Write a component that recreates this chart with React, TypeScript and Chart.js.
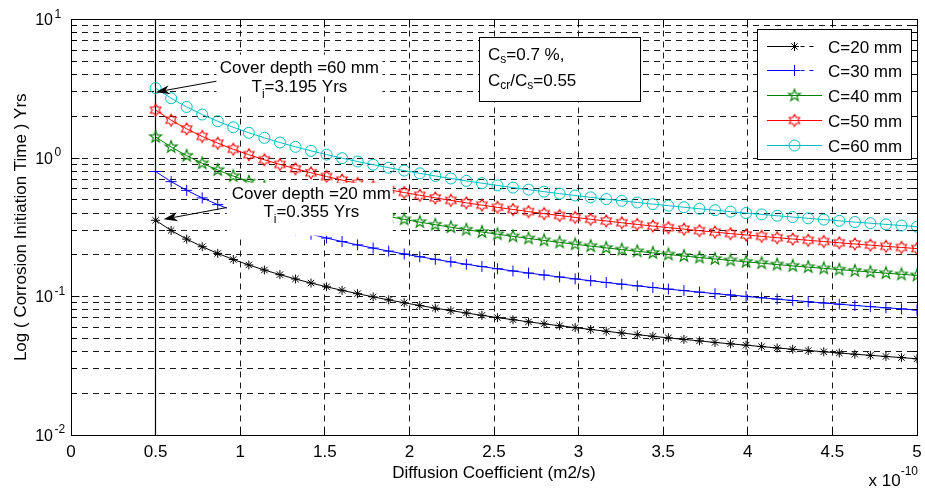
import React, { useEffect, useRef } from 'react';
import { Chart, registerables } from 'chart.js';

Chart.register(...registerables);

// Diffusion coefficient (x 1e-10 m2/s), 50 evenly spaced samples 0.5 .. 5
const diffusionCoeff = [
  0.5, 0.5918, 0.6837, 0.7755, 0.8673, 0.9592, 1.051, 1.1429, 1.2347, 1.3265,
  1.4184, 1.5102, 1.602, 1.6939, 1.7857, 1.8776, 1.9694, 2.0612, 2.1531, 2.2449,
  2.3367, 2.4286, 2.5204, 2.6122, 2.7041, 2.7959, 2.8878, 2.9796, 3.0714, 3.1633,
  3.2551, 3.3469, 3.4388, 3.5306, 3.6224, 3.7143, 3.8061, 3.898, 3.9898, 4.0816,
  4.1735, 4.2653, 4.3571, 4.449, 4.5408, 4.6327, 4.7245, 4.8163, 4.9082, 5.0,
];

// Corrosion initiation time (years)
const timeC20 = [
  0.355, 0.2999, 0.2596, 0.2289, 0.2047, 0.185, 0.1689, 0.1553, 0.1438, 0.1338,
  0.1251, 0.1175, 0.1108, 0.1048, 0.0994, 0.0945, 0.0901, 0.0861, 0.0824, 0.0791,
  0.076, 0.0731, 0.0704, 0.068, 0.0656, 0.0635, 0.0615, 0.0596, 0.0578, 0.0561,
  0.0545, 0.053, 0.0516, 0.0503, 0.049, 0.0478, 0.0466, 0.0455, 0.0445, 0.0435,
  0.0425, 0.0416, 0.0407, 0.0399, 0.0391, 0.0383, 0.0376, 0.0369, 0.0362, 0.0355,
];
const timeC30 = [
  0.7988, 0.6748, 0.5841, 0.515, 0.4606, 0.4163, 0.38, 0.3494, 0.3235, 0.3011,
  0.2816, 0.2644, 0.2493, 0.2358, 0.2237, 0.2127, 0.2028, 0.1937, 0.1855, 0.1779,
  0.1709, 0.1645, 0.1585, 0.1529, 0.1477, 0.1429, 0.1383, 0.134, 0.13, 0.1262,
  0.1227, 0.1193, 0.1161, 0.1131, 0.1103, 0.1075, 0.1049, 0.1025, 0.1001, 0.0979,
  0.0957, 0.0936, 0.0917, 0.0898, 0.088, 0.0862, 0.0845, 0.0829, 0.0814, 0.0799,
];
const timeC40 = [
  1.42, 1.1997, 1.0385, 0.9156, 0.8186, 0.7402, 0.6756, 0.6212, 0.575, 0.5352,
  0.5006, 0.4701, 0.4432, 0.4192, 0.3976, 0.3782, 0.3605, 0.3444, 0.3298, 0.3163,
  0.3038, 0.2924, 0.2817, 0.2718, 0.2626, 0.254, 0.2459, 0.2383, 0.2312, 0.2244,
  0.2181, 0.2121, 0.2065, 0.2011, 0.196, 0.1912, 0.1866, 0.1822, 0.178, 0.174,
  0.1701, 0.1664, 0.163, 0.1596, 0.1564, 0.1532, 0.1503, 0.1474, 0.1446, 0.142,
];
const timeC50 = [
  2.2188, 1.8746, 1.6226, 1.4306, 1.2791, 1.1566, 1.0556, 0.9707, 0.8985, 0.8363,
  0.7821, 0.7346, 0.6925, 0.6549, 0.6213, 0.5909, 0.5633, 0.5382, 0.5153, 0.4942,
  0.4748, 0.4568, 0.4402, 0.4247, 0.4103, 0.3968, 0.3842, 0.3723, 0.3612, 0.3507,
  0.3408, 0.3314, 0.3226, 0.3142, 0.3063, 0.2987, 0.2915, 0.2846, 0.2781, 0.2718,
  0.2658, 0.2601, 0.2546, 0.2494, 0.2443, 0.2394, 0.2348, 0.2303, 0.226, 0.2219,
];
const timeC60 = [
  3.195, 2.6994, 2.3366, 2.06, 1.8419, 1.6655, 1.52, 1.3978, 1.2938, 1.2043,
  1.1263, 1.0578, 0.9972, 0.9431, 0.8946, 0.8509, 0.8112, 0.775, 0.742, 0.7116,
  0.6836, 0.6578, 0.6339, 0.6116, 0.5908, 0.5714, 0.5532, 0.5361, 0.5201, 0.505,
  0.4908, 0.4773, 0.4646, 0.4524, 0.441, 0.4301, 0.4198, 0.4099, 0.4004, 0.3914,
  0.3828, 0.3745, 0.3667, 0.3591, 0.3518, 0.3448, 0.3381, 0.3317, 0.3254, 0.3195,
];

const seriesNames = ['C=20 mm', 'C=30 mm', 'C=40 mm', 'C=50 mm', 'C=60 mm'];
const seriesColors = ['#000000', '#0000ff', '#008000', '#ff0000', '#00bfbf'];

const xTickValues = [0, 0.5, 1, 1.5, 2, 2.5, 3, 3.5, 4, 4.5, 5];
const xTickLabels = ['0', '0.5', '1', '1.5', '2', '2.5', '3', '3.5', '4', '4.5', '5'];
const yDecadeValues = [0.01, 0.1, 1, 10];
const yDecadeExponents = ['-2', '-1', '0', '1'];
const yGridValues = [
  0.01, 0.02, 0.03, 0.04, 0.05, 0.06, 0.07, 0.08, 0.09,
  0.1, 0.2, 0.3, 0.4, 0.5, 0.6, 0.7, 0.8, 0.9,
  1, 2, 3, 4, 5, 6, 7, 8, 9, 10,
];

const FONT = '"Liberation Sans", Arial, Helvetica, sans-serif';

type Run = { t: string; size: number; dy: number };

function drawRuns(ctx: CanvasRenderingContext2D, runs: Run[], x: number, y: number, align: 'left' | 'center' | 'right') {
  ctx.textAlign = 'left';
  ctx.textBaseline = 'alphabetic';
  let total = 0;
  const widths = runs.map((r) => {
    ctx.font = `${r.size}px ${FONT}`;
    const w = ctx.measureText(r.t).width;
    total += w;
    return w;
  });
  let cx = align === 'left' ? x : align === 'center' ? x - total / 2 : x - total;
  runs.forEach((r, i) => {
    ctx.font = `${r.size}px ${FONT}`;
    ctx.fillText(r.t, cx, y + r.dy);
    cx += widths[i];
  });
}

function makeStarMarker(n: number, outer: number, inner: number, color: string) {
  const c = document.createElement('canvas');
  c.width = 16;
  c.height = 16;
  const g = c.getContext('2d')!;
  g.strokeStyle = color;
  g.lineWidth = 1.1;
  g.beginPath();
  for (let k = 0; k < 2 * n; k++) {
    const r = k % 2 === 0 ? outer : inner;
    const ang = -Math.PI / 2 + (k * Math.PI) / n;
    const px = 8 + r * Math.cos(ang);
    const py = 8 + r * Math.sin(ang);
    if (k === 0) g.moveTo(px, py);
    else g.lineTo(px, py);
  }
  g.closePath();
  g.stroke();
  return c;
}

function drawArrow(ctx: CanvasRenderingContext2D, x0: number, y0: number, x1: number, y1: number) {
  const ang = Math.atan2(y1 - y0, x1 - x0);
  const len = 14;
  const hw = 4.5;
  const notch = 10;
  ctx.strokeStyle = '#000';
  ctx.fillStyle = '#000';
  ctx.lineWidth = 1;
  ctx.beginPath();
  ctx.moveTo(x0, y0);
  ctx.lineTo(x1 - Math.cos(ang) * notch, y1 - Math.sin(ang) * notch);
  ctx.stroke();
  const bx = x1 - Math.cos(ang) * len;
  const by = y1 - Math.sin(ang) * len;
  const nx = -Math.sin(ang);
  const ny = Math.cos(ang);
  ctx.beginPath();
  ctx.moveTo(x1, y1);
  ctx.lineTo(bx + nx * hw, by + ny * hw);
  ctx.lineTo(x1 - Math.cos(ang) * notch, y1 - Math.sin(ang) * notch);
  ctx.lineTo(bx - nx * hw, by - ny * hw);
  ctx.closePath();
  ctx.fill();
}

// annotation anchors in data coordinates
const note60 = { ax: 1.35, ay: 3.8, px: 0.5, py: 3.195, text: 'Cover depth =60 mm', ti: '=3.195 Yrs' };
const note20 = { ax: 1.42, ay: 0.48, px: 0.5, py: 0.355, text: 'Cover depth =20 mm', ti: '=0.355 Yrs' };

export default function App() {
  const ref = useRef<HTMLCanvasElement | null>(null);

  useEffect(() => {
    document.body.style.margin = '0';
    const canvas = ref.current!;
    const pent = makeStarMarker(5, 6.3, 2.5, seriesColors[2]);
    const hexa = makeStarMarker(6, 6, 3.46, seriesColors[3]);
    const styles: any[] = ['star', 'cross', pent, hexa, 'circle'];
    const radii = [4.5, 5.5, 7, 7, 5.5];
    const seriesData = [timeC20, timeC30, timeC40, timeC50, timeC60];

    const drawMarker = (ctx: CanvasRenderingContext2D, i: number, x: number, y: number) => {
      const col = seriesColors[i];
      ctx.strokeStyle = col;
      ctx.lineWidth = 1;
      ctx.setLineDash([]);
      if (i === 0) {
        const r = 4.5;
        ctx.beginPath();
        ctx.moveTo(x - r, y); ctx.lineTo(x + r, y);
        ctx.moveTo(x, y - r); ctx.lineTo(x, y + r);
        const d = r * Math.SQRT1_2;
        ctx.moveTo(x - d, y - d); ctx.lineTo(x + d, y + d);
        ctx.moveTo(x - d, y + d); ctx.lineTo(x + d, y - d);
        ctx.stroke();
      } else if (i === 1) {
        const r = 5.5;
        ctx.beginPath();
        ctx.moveTo(x - r, y); ctx.lineTo(x + r, y);
        ctx.moveTo(x, y - r); ctx.lineTo(x, y + r);
        ctx.stroke();
      } else if (i === 4) {
        ctx.beginPath();
        ctx.arc(x, y, 5.5, 0, Math.PI * 2);
        ctx.stroke();
      } else {
        const img = i === 2 ? pent : hexa;
        ctx.drawImage(img, x - 8, y - 8);
      }
    };

    const decor = {
      id: 'decor',
      beforeDatasetsDraw(chart: any) {
        const { ctx, chartArea: a, scales } = chart;
        const px = Math.round(scales.x.getPixelForValue(0.5) - 0.5) + 0.5;
        ctx.save();
        ctx.strokeStyle = '#000';
        ctx.lineWidth = 1.2;
        ctx.beginPath();
        ctx.moveTo(px, a.top);
        ctx.lineTo(px, a.bottom);
        ctx.stroke();
        ctx.restore();
      },
      afterDatasetsDraw(chart: any) {
        const { ctx, scales } = chart;
        const sx = scales.x;
        const sy = scales.y;
        ctx.save();
        // note 60 mm
        {
          const cx = sx.getPixelForValue(note60.ax);
          const cy = sy.getPixelForValue(note60.ay);
          ctx.fillStyle = '#fff';
          ctx.fillRect(cx - 83, cy - 23, 166, 40);
          ctx.fillStyle = '#000';
          drawRuns(ctx, [{ t: note60.text, size: 17, dy: 0 }], cx, cy - 4.4, 'center');
          drawRuns(ctx, [
            { t: 'T', size: 17, dy: 0 },
            { t: 'i', size: 12, dy: 6 },
            { t: note60.ti, size: 17, dy: 0 },
          ], cx, cy + 14.6, 'center');
          const tx = sx.getPixelForValue(note60.px);
          const ty = sy.getPixelForValue(note60.py);
          drawArrow(ctx, cx - 83, cy + 3.5, tx, ty + 4);
        }
        // note 20 mm
        {
          const cx = sx.getPixelForValue(note20.ax);
          const cy = sy.getPixelForValue(note20.ay);
          ctx.fillStyle = '#fff';
          ctx.fillRect(cx - 84.5, cy - 19.5, 166, 53);
          ctx.fillStyle = '#000';
          drawRuns(ctx, [{ t: note20.text, size: 17, dy: 0 }], cx, cy - 3.6, 'center');
          drawRuns(ctx, [
            { t: 'T', size: 17, dy: 0 },
            { t: 'i', size: 12, dy: 6 },
            { t: note20.ti, size: 17, dy: 0 },
          ], cx, cy + 14.7, 'center');
          const tx = sx.getPixelForValue(note20.px);
          const ty = sy.getPixelForValue(note20.py);
          drawArrow(ctx, cx - 84.5, cy + 5.4, tx + 8, ty - 1);
        }
        ctx.restore();
      },
      afterDraw(chart: any) {
        const { ctx, chartArea: a, scales } = chart;
        const sx = scales.x;
        const sy = scales.y;
        ctx.save();
        ctx.setLineDash([]);
        ctx.strokeStyle = '#000';
        ctx.lineWidth = 1;
        const L = Math.round(a.left - 0.5) + 0.5;
        const R = Math.round(a.right - 0.5) + 0.5;
        const T = Math.round(a.top - 0.5) + 0.5;
        const B = Math.round(a.bottom - 0.5) + 0.5;
        ctx.strokeRect(L, T, R - L, B - T);
        // ticks
        ctx.beginPath();
        xTickValues.forEach((v) => {
          const p = Math.round(sx.getPixelForValue(v) - 0.5) + 0.5;
          ctx.moveTo(p, B); ctx.lineTo(p, B - 8);
          ctx.moveTo(p, T); ctx.lineTo(p, T + 8);
        });
        yGridValues.forEach((v) => {
          const p = Math.round(sy.getPixelForValue(v) - 0.5) + 0.5;
          const major = yDecadeValues.indexOf(v) >= 0;
          const len = major ? 8 : 5;
          ctx.moveTo(L, p); ctx.lineTo(L + len, p);
          ctx.moveTo(R, p); ctx.lineTo(R - len, p);
        });
        ctx.stroke();

        ctx.fillStyle = '#000';
        // x tick labels
        ctx.font = `17px ${FONT}`;
        ctx.textAlign = 'center';
        ctx.textBaseline = 'alphabetic';
        xTickValues.forEach((v, i) => {
          ctx.fillText(xTickLabels[i], sx.getPixelForValue(v), a.bottom + 21.5);
        });
        // y tick labels
        yDecadeValues.forEach((v, i) => {
          const p = sy.getPixelForValue(v);
          ctx.font = `16px ${FONT}`;
          ctx.textAlign = 'right';
          ctx.fillText('10', a.left - 18, p + 5.5);
          ctx.font = `12px ${FONT}`;
          ctx.textAlign = 'left';
          ctx.fillText(yDecadeExponents[i], a.left - 16.5, p - 2);
        });
        // x axis title
        ctx.font = `17px ${FONT}`;
        ctx.textAlign = 'center';
        ctx.fillText('Diffusion Coefficient (m2/s)', (a.left + a.right) / 2, a.bottom + 43);
        // exponent
        drawRuns(ctx, [
          { t: 'x 10', size: 17, dy: 0 },
          { t: '-10', size: 12, dy: -11 },
        ], a.right + 1, a.bottom + 51, 'right');
        // y axis title
        ctx.save();
        ctx.translate(26, (a.top + a.bottom) / 2);
        ctx.rotate(-Math.PI / 2);
        ctx.font = `17px ${FONT}`;
        ctx.textAlign = 'center';
        ctx.fillText('Log ( Corrosion Initiation Time ) Yrs', 0, 0);
        ctx.restore();

        // parameter box
        {
          const bx = 479.5;
          const by = 37.5;
          ctx.fillStyle = '#fff';
          ctx.fillRect(bx, by, 161, 64);
          ctx.strokeStyle = '#000';
          ctx.strokeRect(bx, by, 161, 64);
          ctx.fillStyle = '#000';
          drawRuns(ctx, [
            { t: 'C', size: 17, dy: 0 },
            { t: 's', size: 12, dy: 3 },
            { t: '=0.7 %,', size: 17, dy: 0 },
          ], bx + 8.5, by + 22, 'left');
          drawRuns(ctx, [
            { t: 'C', size: 17, dy: 0 },
            { t: 'cr', size: 12, dy: 3.5 },
            { t: '/C', size: 17, dy: 0 },
            { t: 's', size: 12, dy: 3.5 },
            { t: '=0.55', size: 17, dy: 0 },
          ], bx + 8.5, by + 48, 'left');
        }

        // legend
        {
          const lx = Math.round(a.right - 160) + 0.5;
          const ly = Math.round(a.top + 9) + 0.5;
          const lw = 154;
          const lh = 130;
          ctx.fillStyle = '#fff';
          ctx.fillRect(lx, ly, lw, lh);
          ctx.strokeStyle = '#000';
          ctx.lineWidth = 1;
          ctx.setLineDash([]);
          ctx.strokeRect(lx, ly, lw, lh);
          seriesNames.forEach((name, i) => {
            const ey = Math.round(ly + 16 + i * 24.75) + 0.5;
            const x0 = lx + 9.5;
            const xm = lx + 37;
            const x1 = lx + 64.5;
            ctx.strokeStyle = seriesColors[i];
            ctx.lineWidth = 1;
            ctx.beginPath();
            if (i <= 1) {
              ctx.moveTo(x0, ey); ctx.lineTo(xm - 4, ey);
              ctx.stroke();
              ctx.setLineDash([4, 5]);
              ctx.beginPath();
              ctx.moveTo(xm + 6, ey); ctx.lineTo(xm + 19, ey);
              ctx.stroke();
              ctx.setLineDash([]);
            } else {
              ctx.moveTo(x0, ey); ctx.lineTo(x1, ey);
              ctx.stroke();
            }
            drawMarker(ctx, i, xm, ey);
            ctx.fillStyle = '#000';
            ctx.font = `17px ${FONT}`;
            ctx.textAlign = 'left';
            ctx.textBaseline = 'alphabetic';
            ctx.fillText(name, lx + 70.5, ey + 6);
          });
        }
        ctx.restore();
      },
    };

    const chart = new Chart(canvas, {
      type: 'line',
      data: {
        datasets: seriesData.map((arr, i) => ({
          label: seriesNames[i],
          data: diffusionCoeff.map((d, k) => ({ x: d, y: arr[k] })),
          borderColor: seriesColors[i],
          backgroundColor: 'rgba(0,0,0,0)',
          borderWidth: 1,
          pointStyle: styles[i],
          pointRadius: radii[i],
          pointBorderColor: seriesColors[i],
          pointBackgroundColor: 'rgba(0,0,0,0)',
          pointBorderWidth: 1,
          fill: false,
          tension: 0,
        })),
      },
      options: {
        animation: false,
        responsive: false,
        devicePixelRatio: 1,
        events: [],
        layout: { padding: { left: 71, right: 8, top: 19.5, bottom: 55 } },
        plugins: { legend: { display: false }, tooltip: { enabled: false } },
        scales: {
          x: {
            type: 'linear',
            min: 0,
            max: 5,
            afterBuildTicks: (s: any) => {
              s.ticks = xTickValues.map((v) => ({ value: v }));
            },
            ticks: { display: false },
            grid: { color: '#1a1a1a', lineWidth: 1, drawTicks: false },
            border: { display: false, dash: [6, 5] },
          },
          y: {
            type: 'logarithmic',
            min: 0.01,
            max: 10,
            afterBuildTicks: (s: any) => {
              s.ticks = yGridValues.map((v) => ({ value: v }));
            },
            ticks: { display: false },
            grid: { color: '#1a1a1a', lineWidth: 1, drawTicks: false },
            border: { display: false, dash: [6, 5] },
          },
        },
      },
      plugins: [decor],
    } as any);

    return () => chart.destroy();
  }, []);

  return (
    <div style={{ width: 925, height: 490, background: '#fff' }}>
      <canvas ref={ref} width={925} height={490} style={{ display: 'block', width: 925, height: 490 }} />
    </div>
  );
}
